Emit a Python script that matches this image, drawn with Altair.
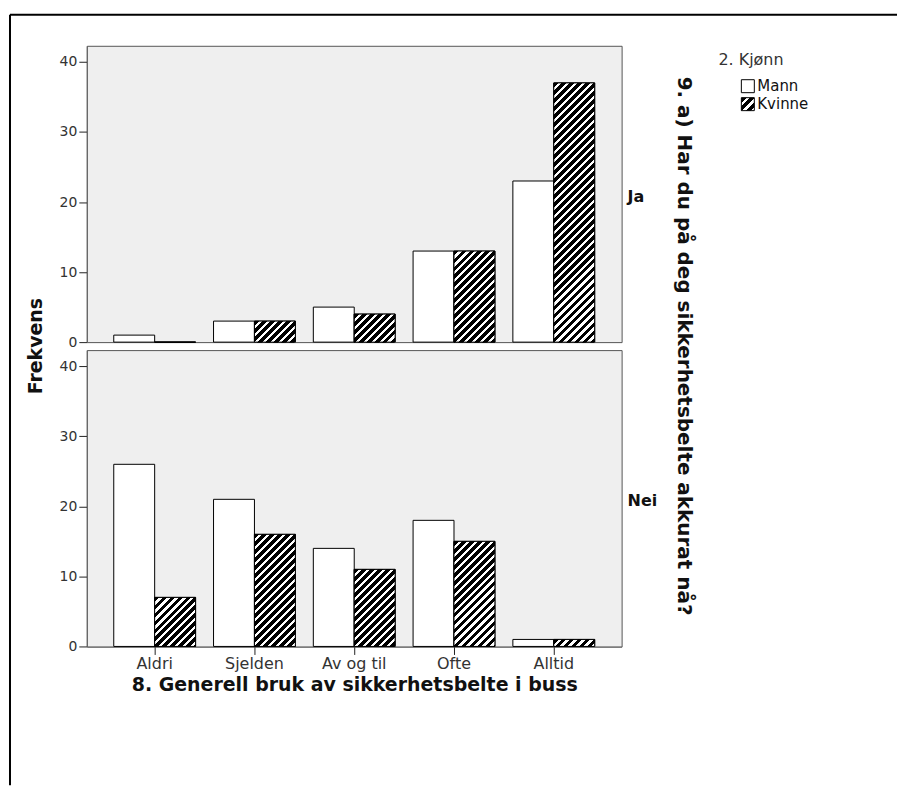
import altair as alt
import pandas as pd

categories = ["Aldri", "Sjelden", "Av og til", "Ofte", "Alltid"]
sexes = ["Mann", "Kvinne"]
answers = ["Ja", "Nei"]
ja_mann = [1, 3, 5, 13, 23]
ja_kvinne = [0, 3, 4, 13, 37]
nei_mann = [26, 21, 14, 18, 1]
nei_kvinne = [7, 16, 11, 15, 1]
y_ticks = [0, 10, 20, 30, 40]

rows = []
for ans, mv, kv in [("Ja", ja_mann, ja_kvinne), ("Nei", nei_mann, nei_kvinne)]:
    for c, a, b in zip(categories, mv, kv):
        rows.append({"answer": ans, "category": c, "sex": "Mann", "n": a})
        rows.append({"answer": ans, "category": c, "sex": "Kvinne", "n": b})
df = pd.DataFrame(rows)

W, H = 536, 297
YMAX = 42.3
PXU = H / YMAX
BARW = 41.0


def stripe_stops(n, black=0.6):
    parts = []
    for i in range(n):
        a = i / n
        b = (i + black) / n
        c = (i + 1) / n
        parts.append("{offset:%.5f,color:'black'}" % a)
        parts.append("{offset:%.5f,color:'black'}" % b)
        parts.append("{offset:%.5f,color:'white'}" % b)
        parts.append("{offset:%.5f,color:'white'}" % c)
    return "[" + ",".join(parts) + "]"


PERIOD = 8.0
NSTRIPES = 44
L = PERIOD * NSTRIPES
hexpr = "(datum.n*%.5f)" % PXU
den = "(%.3f+%s*%s)" % (BARW * BARW, hexpr, hexpr)
bar_grad = (
    "{gradient:'linear',x1:0,y1:0,"
    "x2:%.3f/%s,y2:%.3f*%s/%s,stops:%s}"
    % (L * BARW, den, L, hexpr, den, stripe_stops(NSTRIPES))
)
legend_grad = "{gradient:'linear',x1:0,y1:0,x2:1,y2:1,stops:%s}" % stripe_stops(3)

x_enc = alt.X(
    "category:N",
    sort=categories,
    scale=alt.Scale(paddingInner=0.18, paddingOuter=0.27),
    axis=alt.Axis(
        title="8. Generell bruk av sikkerhetsbelte i buss",
        titleFontSize=19,
        titleFontWeight="bold",
        titleColor="#111",
        titlePadding=4,
        labelFontSize=16,
        labelAngle=0,
        labelPadding=1,
        tickSize=8,
    ),
)
y_enc = alt.Y(
    "n:Q",
    scale=alt.Scale(domain=[0, YMAX], nice=False, zero=True),
    axis=alt.Axis(values=y_ticks, title=None, labelFontSize=14, tickSize=8, labelPadding=2),
)
xoff = alt.XOffset("sex:N", sort=sexes, scale=alt.Scale(domain=sexes))

one_row = "datum.answer == 'Ja' && datum.category == 'Aldri' && datum.sex == 'Mann'"
one_per_panel = "datum.category == 'Aldri' && datum.sex == 'Mann'"

layer_a = alt.Chart().mark_bar(stroke="black", strokeWidth=1).encode(
    x=x_enc,
    y=y_enc,
    xOffset=xoff,
    color=alt.Color(
        "sex:N",
        sort=sexes,
        scale=alt.Scale(domain=sexes, range=["white", alt.ExprRef(legend_grad)]),
        legend=alt.Legend(
            title="2. Kjønn",
            orient="none",
            legendX=633,
            legendY=6,
            titleFontSize=16,
            titleFontWeight="normal",
            titleColor="#333",
            titlePadding=11,
            labelFontSize=15,
            labelColor="#111",
            labelOffset=2,
            symbolType="square",
            symbolSize=169,
            symbolStrokeColor="black",
            symbolStrokeWidth=1,
            symbolOffset=22,
            rowPadding=1,
        ),
    ),
)

layer_b = (
    alt.Chart()
    .mark_bar(stroke="black", strokeWidth=1, fill=alt.ExprRef(bar_grad))
    .encode(x=x_enc, y=y_enc, xOffset=xoff)
    .transform_filter("datum.sex == 'Kvinne'")
)

row_labels = (
    alt.Chart()
    .mark_text(align="left", baseline="middle", fontSize=16, fontWeight="bold", color="#111")
    .encode(x=alt.value(W + 6), y=alt.value(H / 2 + 3), text="answer:N")
    .transform_filter(one_per_panel)
)

row_title = (
    alt.Chart()
    .mark_text(text="9. a) Har du på deg sikkerhetsbelte akkurat nå?", angle=90,
               fontSize=20, fontWeight="bold", align="center", baseline="middle",
               color="#111")
    .encode(x=alt.value(599), y=alt.value(301))
    .transform_filter(one_row)
)

frek = (
    alt.Chart()
    .mark_text(text="Frekvens", angle=270, fontSize=19, fontWeight="bold",
               align="center", baseline="middle", color="#111")
    .encode(x=alt.value(-51), y=alt.value(301))
    .transform_filter(one_row)
)

frame_top = (
    alt.Chart()
    .mark_rule(color="black", strokeWidth=2)
    .encode(x=alt.value(-77), x2=alt.value(812), y=alt.value(-31))
    .transform_filter(one_row)
)
frame_left = (
    alt.Chart()
    .mark_rule(color="black", strokeWidth=2)
    .encode(x=alt.value(-77), y=alt.value(-31), y2=alt.value(741))
    .transform_filter(one_row)
)

chart = (
    alt.layer(layer_a, layer_b, row_labels, row_title, frek, frame_top, frame_left, data=df)
    .properties(width=W, height=H)
    .facet(
        row=alt.Row(
            "answer:N",
            sort=answers,
            header=alt.Header(title=None, labels=False),
        ),
        spacing=8,
        bounds="flush",
    )
    .properties(padding={"top": 4, "left": 0, "right": 0, "bottom": 0})
    .configure(font="DejaVu Sans", background="white")
    .configure_view(fill="#efefef", stroke="#555", strokeWidth=1)
    .configure_axis(domainColor="#222", tickColor="#222", labelColor="#333", grid=False)
)

chart.save("out.html", embed_options={"renderer": "svg", "actions": False})
